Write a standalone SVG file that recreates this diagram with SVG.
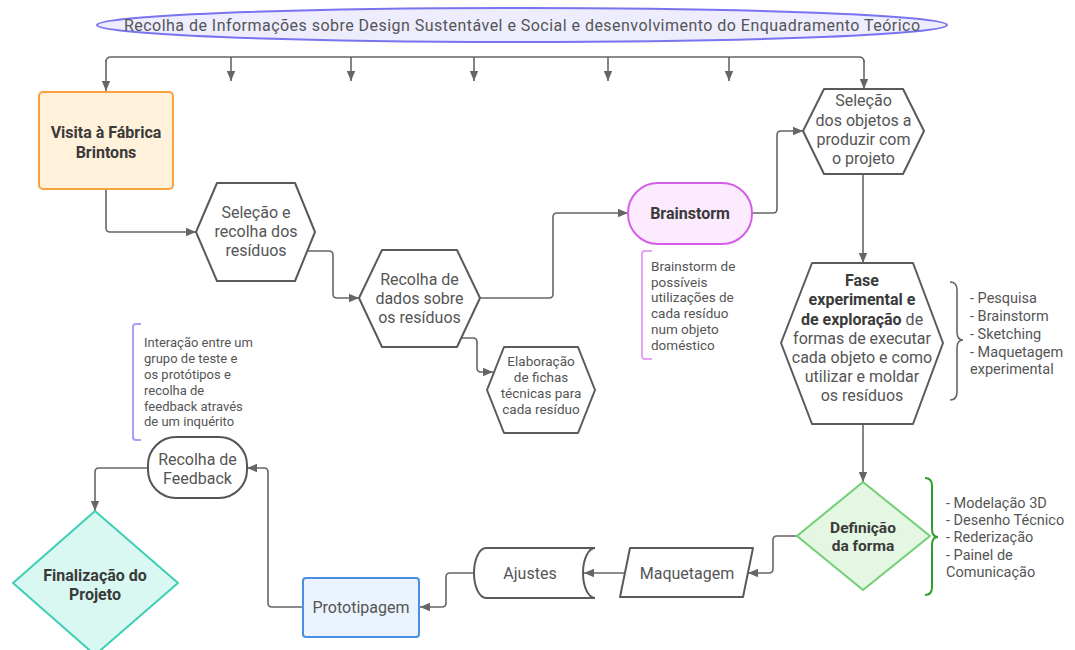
<svg xmlns="http://www.w3.org/2000/svg" width="1075" height="650" viewBox="0 0 1075 650">
<defs>
<marker id="ar" markerUnits="userSpaceOnUse" markerWidth="10" markerHeight="10" refX="10" refY="5" orient="auto"><path d="M0,0.8 L10,5 L0,9.2 z" fill="#666"/></marker>
<style>
text{font-family:Roboto,"Noto Sans",sans-serif;fill:#555;text-anchor:middle}
.b{font-weight:bold;fill:#3a3a3a}
.n{font-size:16px}
.s{font-size:13.5px;text-anchor:start}
.l{font-size:14.5px;text-anchor:start}
.c path,.c line{fill:none;stroke:#666;stroke-width:1.6}
.c .a{marker-end:url(#ar)}
.hex{fill:#fff;stroke:#5a5a5a;stroke-width:2;stroke-linejoin:round}
</style>
</defs>
<rect width="1075" height="650" fill="#fff"/>
<g id="title">
<ellipse cx="522" cy="25" rx="425" ry="17" fill="#ededfd" stroke="#7874f0" stroke-width="2"/>
<text x="522" y="30.5" style="font-size:16px" textLength="796" lengthAdjust="spacing">Recolha de Informações sobre Design Sustentável e Social e desenvolvimento do Enquadramento Teórico</text>
</g>
<g id="connectors" class="c">
<path d="M106,62 Q106,57 111,57 H859 Q864,57 864,62"/>
<path class="a" d="M106,60 V91"/>
<path class="a" d="M231,57 V81"/>
<path class="a" d="M351,57 V81"/>
<path class="a" d="M474,57 V81"/>
<path class="a" d="M608,57 V81"/>
<path class="a" d="M729,57 V81"/>
<path class="a" d="M864,60 V89"/>
<path class="a" d="M106,189 V228 Q106,232 110,232 H196"/>
<path class="a" d="M307,251 H329 Q333,251 333,255 V294 Q333,298 337,298 H359"/>
<path class="a" d="M480,298 H549 Q553,298 553,294 V217 Q553,213 557,213 H628"/>
<path class="a" d="M461,338 H473 Q477,338 477,342 V368 Q477,372 481,372 H493"/>
<path class="a" d="M752,213 H773 Q777,213 777,209 V135 Q777,131 781,131 H803"/>
<path class="a" d="M863,174 V263"/>
<path class="a" d="M863,424 V482"/>
<path class="a" d="M797,536 H777 Q773,536 773,540 V569 Q773,573 769,573 H748"/>
<path class="a" d="M625,573 H584"/>
<path class="a" d="M473,573 H450 Q446,573 446,577 V603 Q446,607 442,607 H420"/>
<path class="a" d="M303,607 H272 Q268,607 268,603 V472 Q268,468 264,468 H247"/>
<path class="a" d="M148,468 H99 Q95,468 95,472 V511"/>
</g>
<g id="visita">
<rect x="39" y="92" width="134" height="97" rx="4" fill="#fff1da" stroke="#f7a13f" stroke-width="2"/>
<text class="n b" x="106" y="138">Visita à Fábrica</text>
<text class="n b" x="106" y="158">Brintons</text>
</g>
<g id="selecao-residuos">
<polygon class="hex" points="196,232 217,183 295,183 315,232 295,281 217,281"/>
<text class="n" x="256" y="218">Seleção e</text>
<text class="n" x="256" y="237">recolha dos</text>
<text class="n" x="256" y="256">resíduos</text>
</g>
<g id="recolha-dados">
<polygon class="hex" points="359,298 382,250 457,250 480,298 457,347 382,347"/>
<text class="n" x="419.5" y="285">Recolha de</text>
<text class="n" x="419.5" y="304">dados sobre</text>
<text class="n" x="419.5" y="323">os resíduos</text>
</g>
<g id="elaboracao">
<polygon class="hex" points="487,390 504,347 578,347 595,390 578,433 504,433"/>
<text x="541" y="366" style="font-size:13.5px">Elaboração</text>
<text x="541" y="382" style="font-size:13.5px">de fichas</text>
<text x="541" y="398" style="font-size:13.5px">técnicas para</text>
<text x="541" y="414" style="font-size:13.5px">cada resíduo</text>
</g>
<g id="brainstorm">
<rect x="628" y="183" width="124" height="61" rx="30" fill="#fcebfe" stroke="#d45ee8" stroke-width="2"/>
<text class="n b" x="690" y="219">Brainstorm</text>
</g>
<g id="brainstorm-note">
<path d="M652,251 H645 Q642,251 642,254 V356 Q642,359 645,359 H652" fill="none" stroke="#e4a4f2" stroke-width="2"/>
<text class="s" x="651" y="270.5">Brainstorm de</text>
<text class="s" x="651" y="286.5">possíveis</text>
<text class="s" x="651" y="302">utilizações de</text>
<text class="s" x="651" y="318">cada resíduo</text>
<text class="s" x="651" y="333.5">num objeto</text>
<text class="s" x="651" y="349.5">doméstico</text>
</g>
<g id="selecao-objetos">
<polygon class="hex" points="803,131 824,89 903,89 924,131 903,174 824,174"/>
<text class="n" x="863.5" y="106">Seleção</text>
<text class="n" x="863.5" y="126">dos objetos a</text>
<text class="n" x="863.5" y="145">produzir com</text>
<text class="n" x="863.5" y="164">o projeto</text>
</g>
<g id="fase">
<polygon class="hex" points="781,343 812,263 913,263 943,343 913,424 812,424"/>
<text class="n b" x="862" y="285.5">Fase</text>
<text class="n b" x="862" y="305">experimental e</text>
<text class="n" x="862" y="324.5"><tspan class="b">de exploração</tspan> de</text>
<text class="n" x="862" y="343.5">formas de executar</text>
<text class="n" x="862" y="362.5">cada objeto e como</text>
<text class="n" x="862" y="381.5">utilizar e moldar</text>
<text class="n" x="862" y="400.5">os resíduos</text>
</g>
<g id="fase-list">
<path d="M950,282 Q957,282 957,290 V332 Q957,340 963,340 Q957,340 957,348 V392 Q957,400 950,400" fill="none" stroke="#666" stroke-width="1.6"/>
<text class="l" x="970" y="303">- Pesquisa</text>
<text class="l" x="970" y="321">- Brainstorm</text>
<text class="l" x="970" y="339">- Sketching</text>
<text class="l" x="970" y="357">- Maquetagem</text>
<text class="l" x="970" y="374">experimental</text>
</g>
<g id="definicao">
<polygon points="863,482 930,536 863,590 797,536" fill="#e3f7e3" stroke="#72cf72" stroke-width="2" stroke-linejoin="round"/>
<text class="b" x="863" y="532.5" style="font-size:15.5px">Definição</text>
<text class="b" x="863" y="551" style="font-size:15.5px">da forma</text>
</g>
<g id="definicao-list">
<path d="M925,478 Q932,478 932,486 V529 Q932,537 938,537 Q932,537 932,545 V587 Q932,595 925,595" fill="none" stroke="#2e9e2e" stroke-width="2"/>
<text class="l" x="946" y="507.5">- Modelação 3D</text>
<text class="l" x="946" y="525">- Desenho Técnico</text>
<text class="l" x="946" y="542">- Rederização</text>
<text class="l" x="946" y="560">- Painel de</text>
<text class="l" x="946" y="577">Comunicação</text>
</g>
<g id="maquetagem">
<polygon points="630,548 753,548 743,597 620,597" fill="#fff" stroke="#5a5a5a" stroke-width="2" stroke-linejoin="round"/>
<text class="n" x="687" y="579">Maquetagem</text>
</g>
<g id="ajustes">
<path d="M486,548 H595 A12,25 0 0 0 595,598 H486 A12,25 0 0 1 486,548 Z" fill="#fff" stroke="#5a5a5a" stroke-width="2"/>
<text class="n" x="530" y="579">Ajustes</text>
</g>
<g id="prototipagem">
<rect x="303" y="578" width="116" height="59" rx="3" fill="#eaf3fe" stroke="#4a90e2" stroke-width="2"/>
<text class="n" x="361" y="612.5">Prototipagem</text>
</g>
<g id="feedback">
<rect x="148" y="437" width="99" height="61" rx="28" fill="#fff" stroke="#555" stroke-width="2"/>
<text class="n" x="197.5" y="465">Recolha de</text>
<text class="n" x="197.5" y="484">Feedback</text>
</g>
<g id="feedback-note">
<path d="M141,324 H136 Q133,324 133,327 V437 Q133,440 136,440 H141" fill="none" stroke="#a6a2f6" stroke-width="2"/>
<text class="s" x="144" y="347" style="font-size:13px">Interação entre um</text>
<text class="s" x="144" y="363" style="font-size:13px">grupo de teste e</text>
<text class="s" x="144" y="379" style="font-size:13px">os protótipos e</text>
<text class="s" x="144" y="395" style="font-size:13px">recolha de</text>
<text class="s" x="144" y="411" style="font-size:13px">feedback através</text>
<text class="s" x="144" y="426" style="font-size:13px">de um inquérito</text>
</g>
<g id="finalizacao">
<polygon points="95,511 178,583 95,655 13,583" fill="#d8f8f1" stroke="#3dcfb4" stroke-width="2" stroke-linejoin="round"/>
<text class="n b" x="95" y="581">Finalização do</text>
<text class="n b" x="95" y="600">Projeto</text>
</g>
</svg>
